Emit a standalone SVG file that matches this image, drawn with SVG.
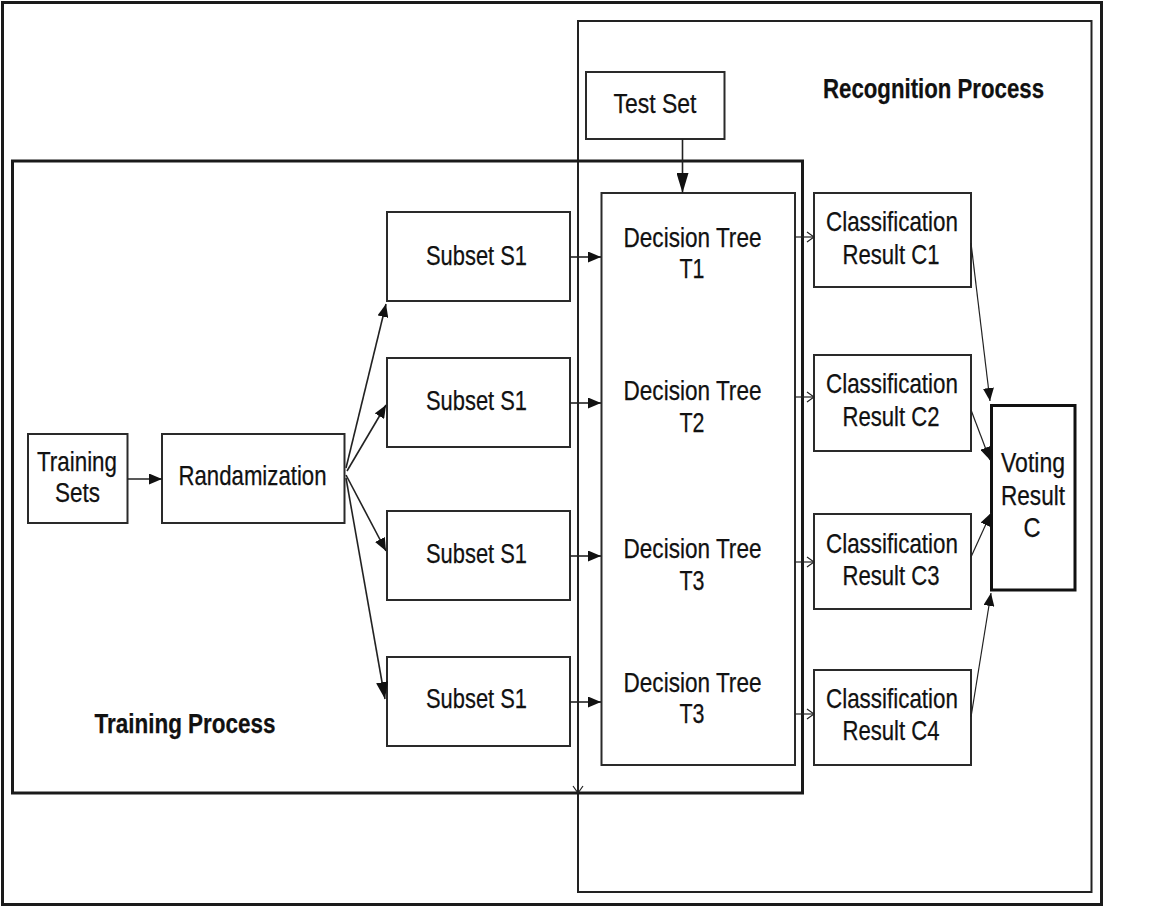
<svg xmlns="http://www.w3.org/2000/svg" width="1152" height="908" viewBox="0 0 1152 908">
<style>
.bg{fill:#fff}
.frame{fill:none;stroke:#1a1a1a;stroke-width:3}
.cont{fill:none;stroke:#222;stroke-width:2}
.node{fill:#fff;stroke:#2a2a2a;stroke-width:2}
.vote{fill:#fff;stroke:#111;stroke-width:3}
.t{font-family:"Liberation Sans",Arial,sans-serif;font-size:27.5px;fill:#111;stroke:#111;stroke-width:0.25}
.b{font-weight:bold}
.c{fill:none;stroke:#222;stroke-width:1.6}
.ct{fill:none;stroke:#222;stroke-width:1.2}
</style>
<defs>
<marker id="af" markerUnits="userSpaceOnUse" markerWidth="13" markerHeight="11" refX="13" refY="5.5" orient="auto"><path d="M0,0 L13,5.5 L0,11 z" fill="#111"/></marker>
<marker id="afL" markerUnits="userSpaceOnUse" markerWidth="17" markerHeight="12" refX="17" refY="6" orient="auto"><path d="M0,0 L17,6 L0,12 z" fill="#111"/></marker>
<marker id="afT" markerUnits="userSpaceOnUse" markerWidth="20" markerHeight="12" refX="20" refY="6" orient="auto"><path d="M0,0 L20,6 L0,12 z" fill="#111"/></marker>
<marker id="ao" markerUnits="userSpaceOnUse" markerWidth="9" markerHeight="12" refX="8" refY="6" orient="auto"><path d="M1,1 L8,6 L1,11" fill="none" stroke="#222" stroke-width="1.2"/></marker>
</defs>
<rect class="bg" width="1152" height="908"/>
<rect class="frame" x="2.5" y="2.5" width="1099" height="902"/>
<g id="recognition-process">
<rect class="cont" x="578" y="21" width="513.5" height="871"/>
<text class="t b" x="823" y="98" textLength="221" lengthAdjust="spacingAndGlyphs">Recognition Process</text>
</g>
<g id="training-process">
<rect class="frame" x="12.5" y="161" width="790" height="632"/>
<text class="t b" x="94.5" y="733" textLength="181" lengthAdjust="spacingAndGlyphs">Training Process</text>
</g>
<g id="test-set">
<rect class="node" x="586" y="72" width="138.5" height="67"/>
<text class="t" x="613.5" y="113" textLength="83" lengthAdjust="spacingAndGlyphs">Test Set</text>
</g>
<g id="training-sets">
<rect class="node" x="28" y="434" width="99.5" height="89"/>
<text class="t" x="37" y="471" textLength="80" lengthAdjust="spacingAndGlyphs">Training</text>
<text class="t" x="55" y="502" textLength="45" lengthAdjust="spacingAndGlyphs">Sets</text>
</g>
<g id="randamization">
<rect class="node" x="162" y="434" width="182.5" height="89"/>
<text class="t" x="178.5" y="485" textLength="148" lengthAdjust="spacingAndGlyphs">Randamization</text>
</g>
<g id="subset-1">
<rect class="node" x="387" y="212" width="183" height="89"/>
<text class="t" x="426" y="265" textLength="101" lengthAdjust="spacingAndGlyphs">Subset S1</text>
</g>
<g id="subset-2">
<rect class="node" x="387" y="358" width="183" height="89"/>
<text class="t" x="426" y="410" textLength="101" lengthAdjust="spacingAndGlyphs">Subset S1</text>
</g>
<g id="subset-3">
<rect class="node" x="387" y="511" width="183" height="89"/>
<text class="t" x="426" y="563" textLength="101" lengthAdjust="spacingAndGlyphs">Subset S1</text>
</g>
<g id="subset-4">
<rect class="node" x="387" y="657" width="183" height="89"/>
<text class="t" x="426" y="708" textLength="101" lengthAdjust="spacingAndGlyphs">Subset S1</text>
</g>
<g id="decision-trees">
<rect class="node" x="601.5" y="193" width="193.5" height="572"/>
<text class="t" x="623.5" y="247" textLength="138" lengthAdjust="spacingAndGlyphs">Decision Tree</text>
<text class="t" x="679.5" y="278" textLength="25" lengthAdjust="spacingAndGlyphs">T1</text>
<text class="t" x="623.5" y="400" textLength="138" lengthAdjust="spacingAndGlyphs">Decision Tree</text>
<text class="t" x="679.5" y="432" textLength="25" lengthAdjust="spacingAndGlyphs">T2</text>
<text class="t" x="623.5" y="558" textLength="138" lengthAdjust="spacingAndGlyphs">Decision Tree</text>
<text class="t" x="679.5" y="590" textLength="25" lengthAdjust="spacingAndGlyphs">T3</text>
<text class="t" x="623.5" y="692" textLength="138" lengthAdjust="spacingAndGlyphs">Decision Tree</text>
<text class="t" x="679.5" y="723" textLength="25" lengthAdjust="spacingAndGlyphs">T3</text>
</g>
<g id="classification-c1">
<rect class="node" x="814" y="193" width="157" height="94"/>
<text class="t" x="826" y="231" textLength="132" lengthAdjust="spacingAndGlyphs">Classification</text>
<text class="t" x="842.5" y="264" textLength="97" lengthAdjust="spacingAndGlyphs">Result C1</text>
</g>
<g id="classification-c2">
<rect class="node" x="814" y="355" width="157" height="96"/>
<text class="t" x="826" y="393" textLength="132" lengthAdjust="spacingAndGlyphs">Classification</text>
<text class="t" x="842.5" y="426" textLength="97" lengthAdjust="spacingAndGlyphs">Result C2</text>
</g>
<g id="classification-c3">
<rect class="node" x="814" y="514" width="157" height="95"/>
<text class="t" x="826" y="553" textLength="132" lengthAdjust="spacingAndGlyphs">Classification</text>
<text class="t" x="842.5" y="585" textLength="97" lengthAdjust="spacingAndGlyphs">Result C3</text>
</g>
<g id="classification-c4">
<rect class="node" x="814" y="670" width="157" height="95"/>
<text class="t" x="826" y="708" textLength="132" lengthAdjust="spacingAndGlyphs">Classification</text>
<text class="t" x="842.5" y="740" textLength="97" lengthAdjust="spacingAndGlyphs">Result C4</text>
</g>
<g id="voting-result">
<rect class="vote" x="991.5" y="405.5" width="83.5" height="184.5"/>
<text class="t" x="1001" y="472" textLength="64" lengthAdjust="spacingAndGlyphs">Voting</text>
<text class="t" x="1001" y="505" textLength="64" lengthAdjust="spacingAndGlyphs">Result</text>
<text class="t" x="1023.5" y="537" textLength="17" lengthAdjust="spacingAndGlyphs">C</text>
</g>
<g id="connectors">
<line class="c" x1="682.5" y1="139" x2="682.5" y2="193" marker-end="url(#afT)"/>
<line class="c" x1="127.5" y1="479" x2="162" y2="479" marker-end="url(#af)"/>
<line class="c" x1="346" y1="468" x2="386" y2="304" marker-end="url(#af)"/>
<line class="c" x1="347" y1="471" x2="386" y2="405" marker-end="url(#af)"/>
<line class="c" x1="346" y1="475" x2="386" y2="551" marker-end="url(#af)"/>
<line class="c" x1="346" y1="478" x2="385" y2="699" marker-end="url(#afL)"/>
<line class="c" x1="570" y1="257" x2="601" y2="257" marker-end="url(#af)"/>
<line class="c" x1="570" y1="403" x2="601" y2="403" marker-end="url(#af)"/>
<line class="c" x1="570" y1="556" x2="601" y2="556" marker-end="url(#af)"/>
<line class="c" x1="570" y1="702" x2="601" y2="702" marker-end="url(#af)"/>
<line class="ct" x1="795" y1="237" x2="814" y2="237" marker-end="url(#ao)"/>
<line class="ct" x1="795" y1="397" x2="814" y2="397" marker-end="url(#ao)"/>
<line class="ct" x1="795" y1="562" x2="814" y2="562" marker-end="url(#ao)"/>
<line class="ct" x1="795" y1="714" x2="814" y2="714" marker-end="url(#ao)"/>
<line class="ct" x1="971" y1="243" x2="990" y2="401" marker-end="url(#af)"/>
<line class="ct" x1="971" y1="410" x2="990" y2="460" marker-end="url(#af)"/>
<line class="ct" x1="971" y1="557" x2="991" y2="513" marker-end="url(#af)"/>
<line class="ct" x1="971" y1="717" x2="991" y2="593" marker-end="url(#af)"/>
<path class="ct" d="M573,786 L578,793 L583,786"/>
</g>
</svg>
